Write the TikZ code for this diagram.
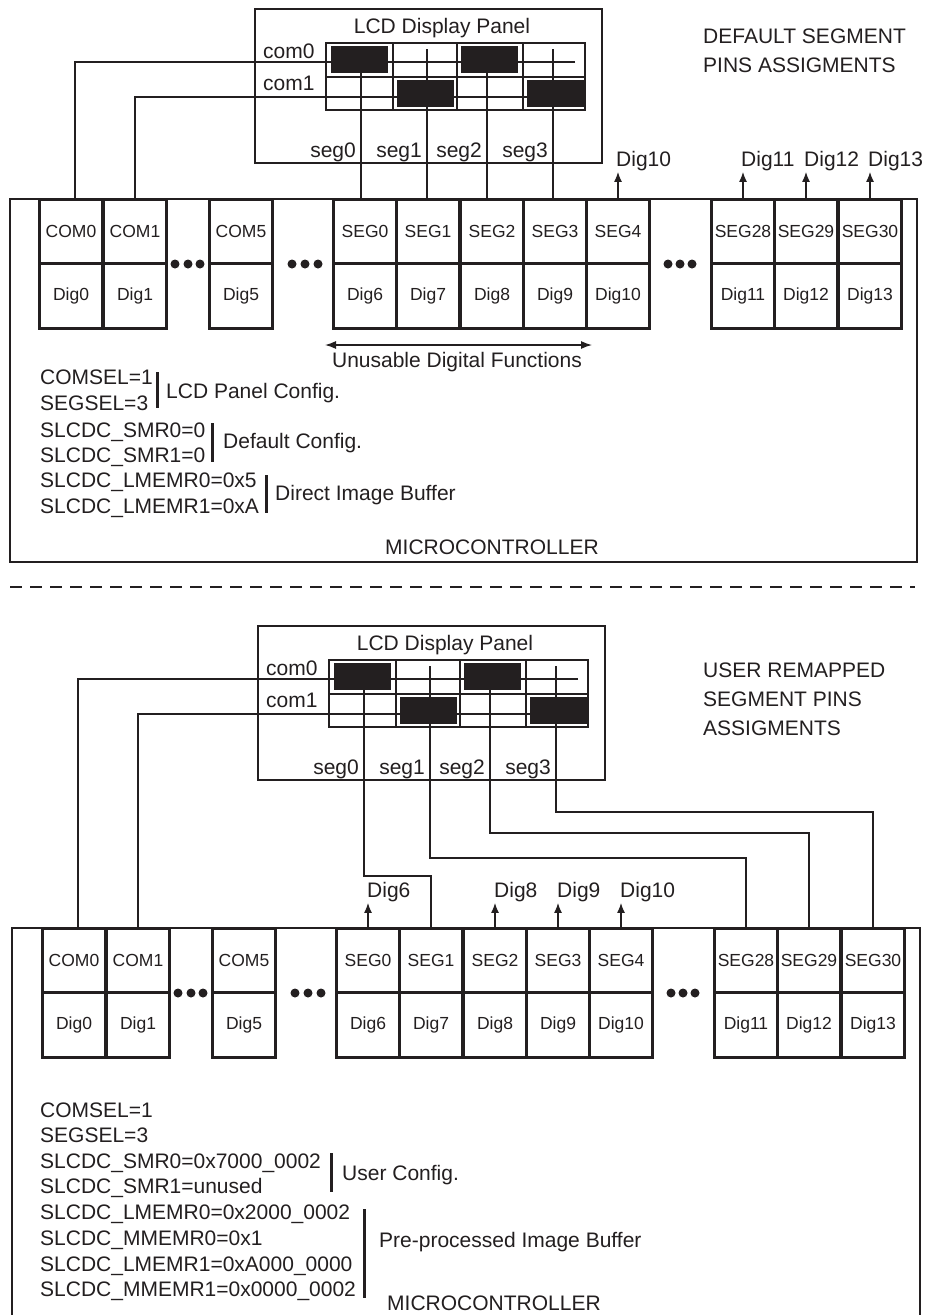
\documentclass[tikz,border=0pt]{standalone}
\usepackage{fontspec}
\setmainfont{Liberation Sans}
\usetikzlibrary{arrows.meta}
\definecolor{ink}{HTML}{231F20}
\newcommand\lcdframe{%
  \node[lcdbox, minimum width=347pt, minimum height=154pt] (lcd) at (428.5,86) {};
  \node[txt, anchor=base] (title) at (442,33) {LCD Display Panel};
  \node[txt, anchor=base west] (l0) at (263,58) {com0};
  \node[txt, anchor=base west] (l1) at (263,90) {com1};
  \foreach \i/\x in {0/356,1/422,2/482,3/548}{\node[txt, anchor=base east] (sl\i) at (\x,157) {seg\i};}
  \coordinate (c0) at (575,62);
  \coordinate (c1) at (575,97);
  \foreach \i/\x in {0/361,1/427,2/487,3/553}{\coordinate (s\i) at (\x,49);}
}
\newcommand\lcdcells{%
  \draw[gridl] (326,43) rectangle (585,110) (326,77) -- (585,77)
     (393,43) -- (393,110) (457,43) -- (457,110) (523,43) -- (523,110);
  \fill[ink] (331,46) rectangle (388,73);
  \fill[ink] (461,46) rectangle (518,73);
  \fill[ink] (397,80) rectangle (454,107);
  \fill[ink] (527,80) rectangle (585,107);
}
\newcommand\pinrow{%
  \foreach \n/\x/\d in {COM0/39/Dig0, COM1/103/Dig1, COM5/209/Dig5, SEG0/333/Dig6, SEG1/396/Dig7, SEG2/460/Dig8, SEG3/523/Dig9, SEG4/586/Dig10, SEG28/711/Dig11, SEG29/774/Dig12, SEG30/838/Dig13}{
    \node[pincell] (\n) at (\x+32,231.5) {\n};
    \node[pincell] (d\n) at (\x+32,296) {\d};
  }
  \foreach \x in {175,188,200,292,305,318,668,680,692}{\fill[ink] (\x,264) circle (4.5pt);}
}
\begin{document}
\begin{tikzpicture}[x=1pt,y=-1pt,
  txt/.style={font=\fontsize{21}{25}\selectfont, inner sep=0pt, text=ink},
  pincell/.style={draw=ink, line width=2.6pt, fill=white, minimum width=63.5pt, minimum height=64.5pt, inner sep=0pt, font=\fontsize{17.5}{20}\selectfont, text=ink},
  lcdbox/.style={draw=ink, line width=2.6pt, fill=white, inner sep=0pt},
  mcbox/.style={draw=ink, line width=2.6pt, inner sep=0pt},
  gridl/.style={draw=ink, line width=1.4pt},
  wire/.style={draw=ink, line width=1.2pt},
  bar/.style={draw=ink, line width=3pt},
  arr/.style={draw=ink, line width=1.3pt, -{Latex[length=10pt,width=8pt]}}
]
\useasboundingbox[fill=white] (0,0) rectangle (925,1315);

% ================= TOP =================
\node[mcbox, minimum width=907pt, minimum height=363pt] (tmc) at (463.5,380.5) {};
\begin{scope}[name prefix=t-]
  \pinrow
  \lcdframe
\end{scope}
\draw[wire] (t-c0) -| ([xshift=4pt]t-COM0.north);
\draw[wire] (t-c1) -| (t-COM1.north);
\foreach \i/\p in {0/SEG0,1/SEG1,2/SEG2,3/SEG3}{\draw[wire] (t-s\i) -- (t-s\i |- t-\p.north);}
\begin{scope}[name prefix=t-]
  \lcdcells
\end{scope}
\foreach \p/\d in {SEG4/Dig10, SEG28/Dig11, SEG29/Dig12, SEG30/Dig13}{
  \draw[arr] (t-\p.north) -- ++(0,-26);
  \node[txt, anchor=base west] (t-lab\p) at ([xshift=-2pt,yshift=31pt]t-\p.north) {\d};
}
\node[txt, anchor=base west] (tdef1) at (703,43) {DEFAULT SEGMENT};
\node[txt, anchor=base west] (tdef2) at (703,72) {PINS ASSIGMENTS};
\coordinate (ua) at (325,345);
\coordinate (ub) at (592,345);
\draw[draw=ink, line width=1.3pt, {Latex[length=11pt,width=8pt]}-{Latex[length=11pt,width=8pt]}] (ua) -- (ub);
\node[txt, anchor=base] (unus) at (457,367) {Unusable Digital Functions};
\node[txt, anchor=base west] (tc1) at (40,384) {COMSEL=1};
\node[txt, anchor=base west] (tc2) at (40,410) {SEGSEL=3};
\node[txt, anchor=base west] (tc3) at (40,437) {SLCDC\_SMR0=0};
\node[txt, anchor=base west] (tc4) at (40,462) {SLCDC\_SMR1=0};
\node[txt, anchor=base west] (tc5) at (40,487) {SLCDC\_LMEMR0=0x5};
\node[txt, anchor=base west] (tc6) at (40,513) {SLCDC\_LMEMR1=0xA};
\draw[bar] (157,372) -- (157,408);
\node[txt, anchor=base west] (tn1) at (166,398) {LCD Panel Config.};
\draw[bar] (212,423) -- (212,462);
\node[txt, anchor=base west] (tn2) at (223,448) {Default Config.};
\draw[bar] (266,475) -- (266,513);
\node[txt, anchor=base west] (tn3) at (275,500) {Direct Image Buffer};
\node[txt, anchor=base west] (tmct) at (385,554) {MICROCONTROLLER};

\draw[draw=ink, line width=1.3pt, dash pattern=on 12pt off 8pt] (10,587) -- (915,587);

% ================= BOTTOM =================
\node[mcbox, minimum width=908pt, minimum height=420pt] (bmc) at (466,1138) {};
\begin{scope}[name prefix=b-, shift={(3,729)}]
  \pinrow
\end{scope}
\begin{scope}[name prefix=b-, shift={(3,617)}]
  \lcdframe
\end{scope}
\draw[wire] (b-c0) -| ([xshift=4pt]b-COM0.north);
\draw[wire] (b-c1) -| (b-COM1.north);
\coordinate (y0) at (0,876);
\coordinate (y1) at (0,858);
\coordinate (y2) at (0,833);
\coordinate (y3) at (0,812);
\draw[wire] (b-s0) |- (b-SEG1.north |- y0) -- (b-SEG1.north);
\draw[wire] (b-s1) |- (b-SEG28.north |- y1) -- (b-SEG28.north);
\draw[wire] (b-s2) |- (b-SEG29.north |- y2) -- (b-SEG29.north);
\draw[wire] (b-s3) |- (b-SEG30.north |- y3) -- (b-SEG30.north);
\begin{scope}[name prefix=b-, shift={(3,617)}]
  \lcdcells
\end{scope}
\foreach \p/\d in {SEG0/Dig6, SEG2/Dig8, SEG3/Dig9, SEG4/Dig10}{
  \draw[arr] (b-\p.north) -- ++(0,-24);
  \node[txt, anchor=base west] (b-lab\p) at ([xshift=-1pt,yshift=29pt]b-\p.north) {\d};
}
\node[txt, anchor=base west] (bu1) at (703,677) {USER REMAPPED};
\node[txt, anchor=base west] (bu2) at (703,706) {SEGMENT PINS};
\node[txt, anchor=base west] (bu3) at (703,735) {ASSIGMENTS};
\node[txt, anchor=base west] (bc1) at (40,1117) {COMSEL=1};
\node[txt, anchor=base west] (bc2) at (40,1142) {SEGSEL=3};
\node[txt, anchor=base west] (bc3) at (40,1168) {SLCDC\_SMR0=0x7000\_0002};
\node[txt, anchor=base west] (bc4) at (40,1193) {SLCDC\_SMR1=unused};
\node[txt, anchor=base west] (bc5) at (40,1219) {SLCDC\_LMEMR0=0x2000\_0002};
\node[txt, anchor=base west] (bc6) at (40,1245) {SLCDC\_MMEMR0=0x1};
\node[txt, anchor=base west] (bc7) at (40,1271) {SLCDC\_LMEMR1=0xA000\_0000};
\node[txt, anchor=base west] (bc8) at (40,1296) {SLCDC\_MMEMR1=0x0000\_0002};
\draw[bar] (331,1153) -- (331,1192);
\node[txt, anchor=base west] (bn1) at (342,1180) {User Config.};
\draw[bar] (364,1209) -- (364,1298);
\node[txt, anchor=base west] (bn2) at (379,1247) {Pre-processed Image Buffer};
\node[txt, anchor=base west] (bmct) at (387,1310) {MICROCONTROLLER};
\end{tikzpicture}
\end{document}
